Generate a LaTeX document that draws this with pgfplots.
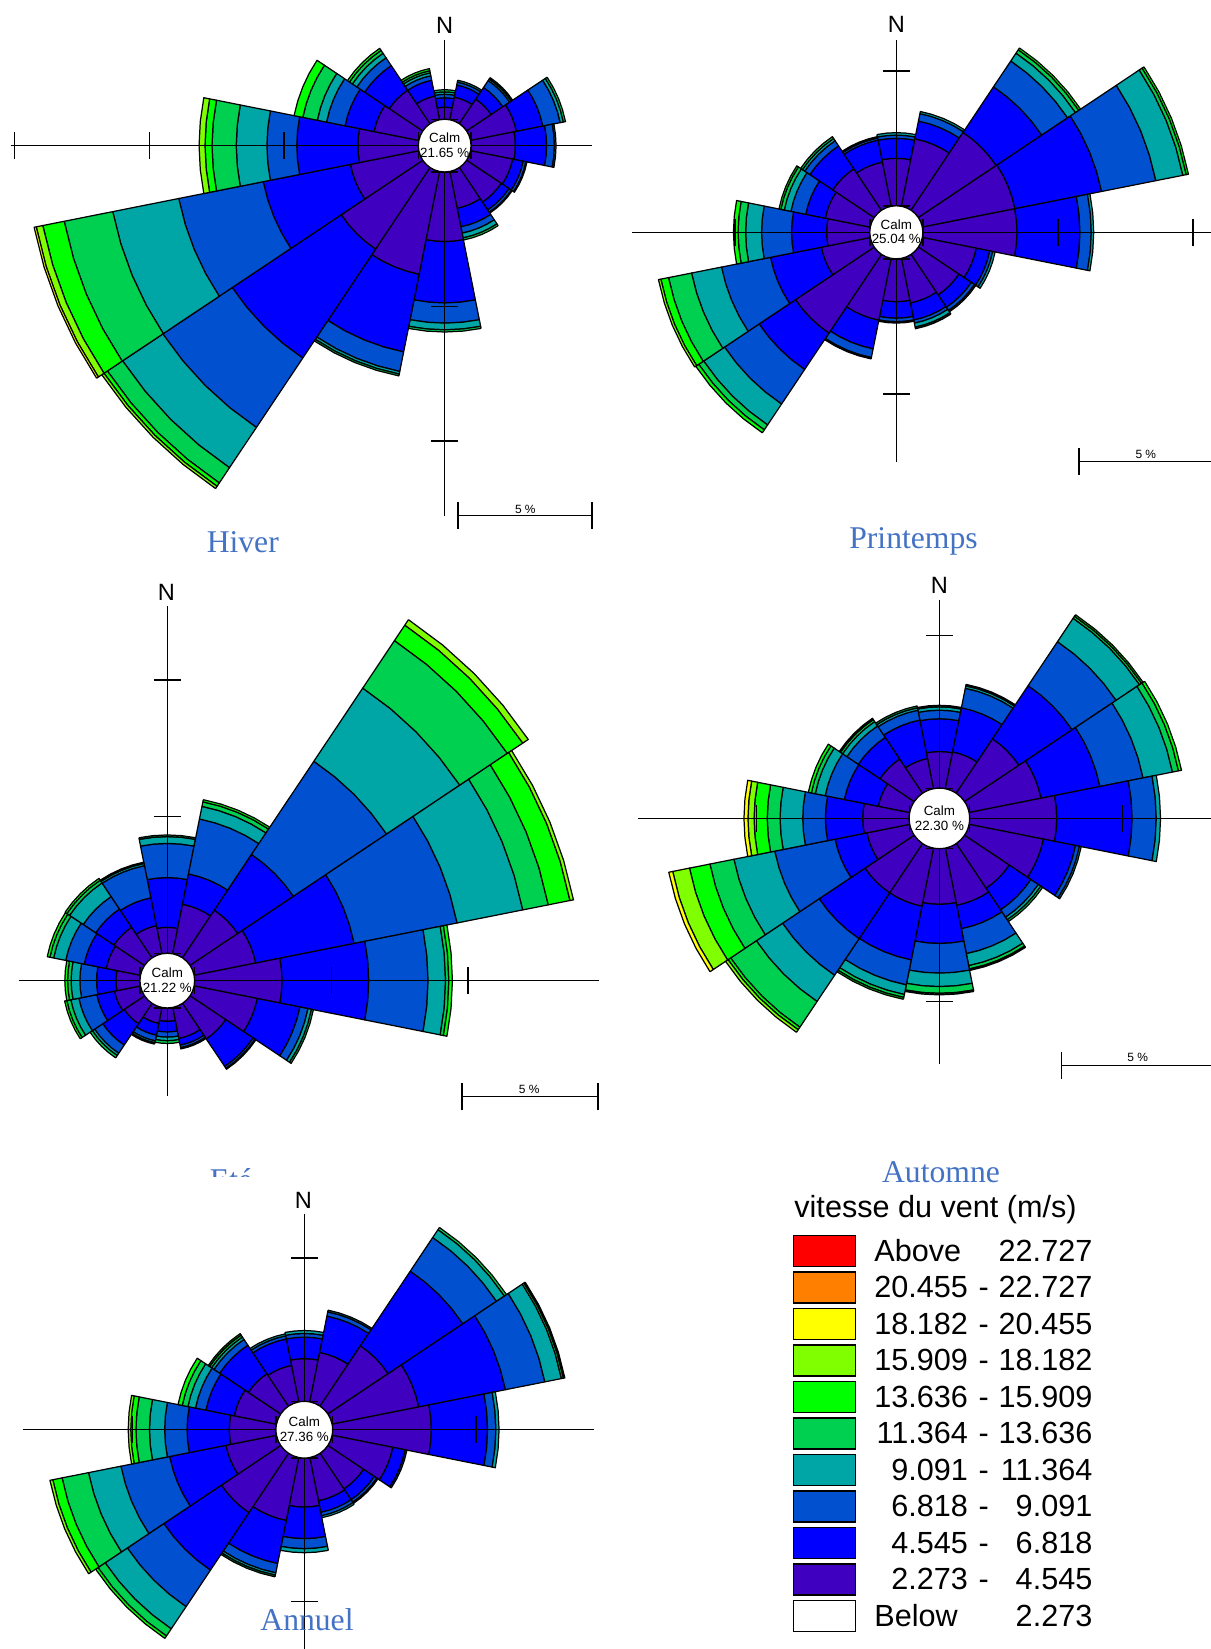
\documentclass[border=0pt]{standalone}
\usepackage{pgfplots}
\pgfplotsset{compat=1.18}
\usepackage{pgfplotstable}
\usepgfplotslibrary{polar}
\usepackage{fontspec}
\setmainfont{Liberation Sans}
\newfontfamily\serifttl{Liberation Serif}

\definecolor{cP}{HTML}{3F00C0}
\definecolor{cB}{HTML}{0000FF}
\definecolor{cM}{HTML}{0050D0}
\definecolor{cT}{HTML}{00A5A5}
\definecolor{cG}{HTML}{00D050}
\definecolor{cL}{HTML}{00FF00}
\definecolor{cY}{HTML}{80FF00}
\definecolor{cW}{HTML}{FFFF00}
\definecolor{cO}{HTML}{FF8000}
\definecolor{cR}{HTML}{FF0000}
\definecolor{ttl}{HTML}{4472C4}

% cumulative percentages (outer edge of each speed class), direction in degrees
\pgfplotstableread{
d P B M T G L Y W
0     0.45 0.80 0.93 1.02 1.10 1.10 1.10 1.10
22.5  0.86 1.32 1.43 1.50 1.50 1.50 1.50 1.50
45    1.10 1.62 1.93 2.00 2.06 2.06 2.06 2.06
67.5  1.74 2.74 3.40 3.52 3.60 3.60 3.60 3.60
90    1.65 2.81 3.10 3.16 3.16 3.16 3.16 3.16
112.5 1.60 2.00 2.10 2.14 2.14 2.14 2.14 2.14
135   1.55 1.90 2.00 2.04 2.04 2.04 2.04 2.04
157.5 1.40 2.10 2.34 2.52 2.60 2.60 2.60 2.60
180   2.59 4.87 5.62 5.87 5.95 5.95 5.95 5.95
202.5 3.90 6.84 7.58 7.68 7.75 7.75 7.75 7.75
225   3.65 8.52 11.62 13.42 14.10 14.25 14.35 14.35
247.5 2.60 5.90 9.10 11.60 13.44 14.25 14.50 14.58
270   2.25 4.52 5.63 6.77 7.67 7.93 8.15 8.15
292.5 1.70 2.80 3.50 3.85 4.40 4.73 4.73 4.73
315   1.50 2.60 2.95 3.15 3.28 3.37 3.37 3.37
337.5 0.90 1.50 1.67 1.78 1.86 1.94 1.94 1.94
}\hiverdata

\pgfplotstableread{
d P B M T G L Y W
0     1.76 2.50 2.62 2.71 2.71 2.71 2.71 2.71
22.5  2.55 3.22 3.50 3.58 3.58 3.58 3.58 3.58
45    3.47 5.50 6.65 7.00 7.15 7.23 7.23 7.23
67.5  3.50 6.77 8.82 9.84 9.97 10.05 10.05 10.05
90    3.49 5.82 6.24 6.33 6.33 6.33 6.33 6.33
112.5 2.04 2.55 2.66 2.75 2.75 2.75 2.75 2.75
135   1.81 2.36 2.50 2.56 2.56 2.56 2.56 2.56
157.5 1.69 2.33 2.45 2.60 2.66 2.66 2.66 2.66
180   1.59 2.20 2.33 2.38 2.38 2.38 2.38 2.38
202.5 2.34 3.42 3.75 3.80 3.80 3.80 3.80 3.80
225   3.51 5.13 6.67 7.60 7.82 7.95 7.95 7.95
247.5 1.85 3.77 5.62 6.75 7.62 7.91 8.00 8.00
270   1.60 2.90 4.01 4.60 4.88 5.05 5.05 5.05
292.5 1.70 2.44 3.00 3.25 3.38 3.45 3.45 3.45
315   1.85 2.87 3.10 3.20 3.28 3.28 3.28 3.28
337.5 1.67 2.50 2.58 2.63 2.63 2.63 2.63 2.63
}\printdata

\pgfplotstableread{
d P B M T G L Y W
0     0.95 2.77 4.02 4.27 4.33 4.33 4.33 4.33
22.5  1.85 2.98 5.03 5.50 5.67 5.75 5.75 5.75
45    2.10 4.55 8.65 11.87 13.96 14.64 14.88 14.88
67.5  2.30 5.97 9.81 12.26 13.21 14.02 14.15 14.15
90    3.20 6.37 8.54 9.18 9.30 9.43 9.43 9.43
112.5 2.36 3.95 4.25 4.38 4.45 4.45 4.45 4.45
135   1.57 2.78 2.86 2.90 2.90 2.90 2.90 2.90
157.5 1.16 1.41 1.50 1.55 1.55 1.55 1.55 1.55
180   0.49 0.88 1.07 1.20 1.30 1.30 1.30 1.30
202.5 0.60 1.04 1.25 1.32 1.37 1.37 1.37 1.37
225   0.90 1.84 2.20 2.30 2.40 2.40 2.40 2.40
247.5 0.97 1.63 2.30 2.60 2.75 2.83 2.83 2.83
270   0.88 1.59 2.20 2.52 2.65 2.75 2.75 2.75
292.5 1.28 2.10 2.79 3.24 3.38 3.48 3.48 3.48
315   1.35 2.15 2.70 3.30 3.42 3.50 3.50 3.50
337.5 1.05 2.09 3.29 3.37 3.42 3.42 3.42 3.42
}\etedata

\pgfplotstableread{
d P B M T G L Y W
0     1.20 2.27 2.55 2.66 2.71 2.71 2.71 2.71
22.5  1.23 2.70 3.35 3.43 3.48 3.48 3.48 3.48
45    2.14 4.23 5.96 6.88 6.96 7.02 7.02 7.02
67.5  2.40 4.36 5.80 6.78 6.98 7.08 7.08 7.08
90    2.85 5.31 6.10 6.24 6.24 6.24 6.24 6.24
112.5 2.48 3.55 3.68 3.74 3.74 3.74 3.74 3.74
135   1.76 2.61 2.90 3.00 3.07 3.07 3.07 3.07
157.5 1.91 2.69 3.52 3.92 4.03 4.08 4.08 4.08
180   1.82 3.10 4.07 4.51 4.73 4.78 4.78 4.78
202.5 1.94 3.73 4.56 4.88 4.98 5.04 5.04 5.04
225   1.94 3.74 5.18 6.21 7.22 7.32 7.42 7.42
247.5 1.43 2.49 4.50 5.86 6.66 7.34 7.90 8.03
270   1.52 2.74 3.48 4.22 4.64 5.07 5.27 5.40
292.5 1.05 2.18 2.82 3.15 3.28 3.38 3.38 3.38
315   1.35 2.20 2.65 2.82 2.90 2.95 2.95 2.95
337.5 1.01 2.29 2.62 2.70 2.76 2.76 2.76 2.76
}\automnedata

\pgfplotstableread{
d P B M T G L Y W
0     1.49 2.24 2.37 2.47 2.47 2.47 2.47 2.47
22.5  1.76 3.05 3.20 3.26 3.26 3.26 3.26 3.26
45    2.53 5.66 7.07 7.40 7.49 7.49 7.49 7.49
67.5  3.08 6.16 7.56 8.15 8.22 8.27 8.27 8.27
90    3.44 5.40 5.69 5.80 5.80 5.80 5.80 5.80
112.5 2.16 2.60 2.66 2.66 2.66 2.66 2.66 2.66
135   1.50 1.95 2.05 2.10 2.10 2.10 2.10 2.10
157.5 1.54 1.95 2.07 2.14 2.14 2.14 2.14 2.14
180   1.71 2.81 3.16 3.30 3.30 3.30 3.30 3.30
202.5 2.24 3.77 4.10 4.18 4.24 4.24 4.24 4.24
225   2.49 4.90 6.43 7.36 7.66 7.76 7.76 7.76
247.5 1.80 3.80 5.53 6.68 7.62 7.95 8.05 8.05
270   1.63 3.10 3.88 4.41 4.88 5.06 5.15 5.15
292.5 1.50 2.51 2.88 3.15 3.35 3.50 3.50 3.50
315   1.36 2.56 2.80 2.90 2.98 3.04 3.04 3.04
337.5 1.30 2.24 2.35 2.42 2.42 2.42 2.42 2.42
}\annueldata

\pgfplotsset{axl/.style={black, line width=0.4pt, mark=none}}

% point at compass angle #1 and radius #2 (px) around (\rcx,\rcy)
\newcommand\wrpt[3]{%
  \pgfmathsetmacro\wrx{\rcx+(#2)*sin(#1)}%
  \pgfmathsetmacro\wry{\rcy-(#2)*cos(#1)}%
  \edef#3{(\wrx,\wry)}}

\newcommand\wrsector[4]{%
  \pgfmathsetmacro\wrin{#2}\pgfmathsetmacro\wrout{#3}%
  \pgfmathsetmacro\wra{#1-11.25}\pgfmathsetmacro\wrb{#1-5.625}%
  \pgfmathsetmacro\wrc{#1}\pgfmathsetmacro\wrd{#1+5.625}%
  \pgfmathsetmacro\wre{#1+11.25}%
  \wrpt{\wra}{\wrout}\qA \wrpt{\wrb}{\wrout}\qB \wrpt{\wrc}{\wrout}\qC
  \wrpt{\wrd}{\wrout}\qD \wrpt{\wre}{\wrout}\qE
  \wrpt{\wre}{\wrin}\qF \wrpt{\wrd}{\wrin}\qG \wrpt{\wrc}{\wrin}\qH
  \wrpt{\wrb}{\wrin}\qI \wrpt{\wra}{\wrin}\qJ
  \edef\wrcmd{\noexpand\addplot[fill=#4,draw=black,line width=0.35pt,line join=round,mark=none] coordinates {\qA\qB\qC\qD\qE\qF\qG\qH\qI\qJ\qA};}%
  \wrcmd}

% #1 table, #2 cx, #3 cy, #4 calm radius px, #5 px per percent
\newcommand\drawrose[5]{%
  \def\rcx{#2}\def\rcy{#3}\def\rc{#4}\def\rs{#5}%
  \foreach \rowidx in {0,...,15}{%
    \pgfplotstablegetelem{\rowidx}{d}\of{#1}\let\rdir\pgfplotsretval
    \def\prev{0}%
    \pgfplotsforeachungrouped \bandname in {P,B,M,T,G,L,Y,W}{%
      \pgfplotstablegetelem{\rowidx}{\bandname}\of{#1}\let\cur\pgfplotsretval
      \pgfmathtruncatemacro\wrflag{(\cur>\prev+0.005)}%
      \ifnum\wrflag=1 \wrsector{\rdir}{\rc+\rs*\prev}{\rc+\rs*\cur}{c\bandname}\fi
      \let\prev\cur
    }%
  }%
}

% #1 cx #2 cy #3 up #4 down #5 left #6 right #7 first tick radius #8 tick step
\newcommand\roseaxes[8]{%
  \pgfmathsetmacro\raya{#2-#3}\pgfmathsetmacro\rayb{#2+#4}%
  \pgfmathsetmacro\raxa{#1-#5}\pgfmathsetmacro\raxb{#1+#6}%
  \edef\wrcmd{\noexpand\addplot[axl] coordinates {(#1,\raya) (#1,\rayb)};}\wrcmd
  \edef\wrcmd{\noexpand\addplot[axl] coordinates {(\raxa,#2) (\raxb,#2)};}\wrcmd
  \pgfmathsetmacro\raA{#1-13.5}\pgfmathsetmacro\raB{#1+13.5}%
  \pgfmathsetmacro\raC{#2-13.5}\pgfmathsetmacro\raD{#2+13.5}%
  \foreach \rak in {0,1,2,3}{%
    \pgfmathsetmacro\rarr{#7+\rak*#8}%
    \pgfmathtruncatemacro\raok{(\rarr<#3+0.5)}%
    \ifnum\raok=1 \pgfmathsetmacro\rayy{#2-\rarr}\edef\wrcmd{\noexpand\addplot[axl] coordinates {(\raA,\rayy) (\raB,\rayy)};}\wrcmd\fi
    \pgfmathtruncatemacro\raok{(\rarr<#4+0.5)}%
    \ifnum\raok=1 \pgfmathsetmacro\rayy{#2+\rarr}\edef\wrcmd{\noexpand\addplot[axl] coordinates {(\raA,\rayy) (\raB,\rayy)};}\wrcmd\fi
    \pgfmathtruncatemacro\raok{(\rarr<#5+0.5)}%
    \ifnum\raok=1 \pgfmathsetmacro\raxx{#1-\rarr}\edef\wrcmd{\noexpand\addplot[axl] coordinates {(\raxx,\raC) (\raxx,\raD)};}\wrcmd\fi
    \pgfmathtruncatemacro\raok{(\rarr<#6+0.5)}%
    \ifnum\raok=1 \pgfmathsetmacro\raxx{#1+\rarr}\edef\wrcmd{\noexpand\addplot[axl] coordinates {(\raxx,\raC) (\raxx,\raD)};}\wrcmd\fi
  }}

\newcommand\calmfont{\fontsize{3.8}{4}\selectfont}
\newcommand\nfont{\fontsize{6.7}{7}\selectfont}
\newcommand\sfont{\fontsize{3.4}{4}\selectfont}
\newcommand\tfont{\serifttl\fontsize{9}{10}\selectfont\color{ttl}}
\newcommand\lfont{\fontsize{8.7}{10}\selectfont}

\begin{document}
\begin{tikzpicture}
\begin{axis}[
  x=0.01cm, y=0.01cm, y dir=reverse,
  xmin=0, xmax=1211, ymin=0, ymax=1649,
  hide axis, enlargelimits=false, clip=true,
]
% ---------- roses ----------
\drawrose{\hiverdata}{444.7}{145.6}{26.3}{26.91}
\drawrose{\printdata}{896.3}{232.3}{26.5}{27.0}
\drawrose{\etedata}{167.3}{980.6}{27.3}{27.34}
\drawrose{\automnedata}{939.4}{818.4}{30.2}{30.6}
\drawrose{\annueldata}{304.3}{1429.7}{28.3}{28.7}

% ---------- axes with ticks ----------
\roseaxes{444.7}{145.6}{106.1}{370}{433.8}{147.1}{26.3}{134.55}
\roseaxes{896.3}{232.3}{192.3}{229.4}{263.9}{400}{26.5}{135}
\roseaxes{167.3}{980.6}{374.2}{115.8}{148.6}{431.9}{27.3}{136.7}
\roseaxes{939.4}{818.4}{218.6}{245.1}{301.2}{400}{30.2}{153}
\roseaxes{304.3}{1429.7}{216}{260}{281.8}{289.7}{28.3}{143.5}

% ---------- calm circles with their labels ----------
\filldraw[fill=white, draw=black, line width=0.35pt] (axis cs:444.7,145.6) circle[radius=0.263cm];
\node[font=\calmfont, anchor=base, inner sep=0] at (axis cs:444.7,142.6) {Calm};
\node[font=\calmfont, anchor=base, inner sep=0] at (axis cs:444.7,157.0) {21.65 \%};
\filldraw[fill=white, draw=black, line width=0.35pt] (axis cs:896.3,232.3) circle[radius=0.265cm];
\node[font=\calmfont, anchor=base, inner sep=0] at (axis cs:896.3,229.3) {Calm};
\node[font=\calmfont, anchor=base, inner sep=0] at (axis cs:896.3,243.7) {25.04 \%};
\filldraw[fill=white, draw=black, line width=0.35pt] (axis cs:167.3,980.6) circle[radius=0.273cm];
\node[font=\calmfont, anchor=base, inner sep=0] at (axis cs:167.3,977.6) {Calm};
\node[font=\calmfont, anchor=base, inner sep=0] at (axis cs:167.3,992.0) {21.22 \%};
\filldraw[fill=white, draw=black, line width=0.35pt] (axis cs:939.4,818.4) circle[radius=0.302cm];
\node[font=\calmfont, anchor=base, inner sep=0] at (axis cs:939.4,815.2) {Calm};
\node[font=\calmfont, anchor=base, inner sep=0] at (axis cs:939.4,830.0) {22.30 \%};
\filldraw[fill=white, draw=black, line width=0.35pt] (axis cs:304.3,1429.7) circle[radius=0.283cm];
\node[font=\calmfont, anchor=base, inner sep=0] at (axis cs:304.3,1426.7) {Calm};
\node[font=\calmfont, anchor=base, inner sep=0] at (axis cs:304.3,1441.7) {27.36 \%};

% ---------- N labels ----------
\node[font=\nfont, inner sep=0] at (axis cs:444.7,25.5) {N};
\node[font=\nfont, inner sep=0] at (axis cs:896.3,24.2) {N};
\node[font=\nfont, inner sep=0] at (axis cs:166.5,592.4) {N};
\node[font=\nfont, inner sep=0] at (axis cs:939.4,585.6) {N};
\node[font=\nfont, inner sep=0] at (axis cs:303.5,1200) {N};

% ---------- scale bars ----------
\addplot[axl] coordinates {(458,515.6) (591.8,515.6)};
\addplot[axl] coordinates {(458,502.1) (458,529.1)};
\addplot[axl] coordinates {(591.8,502.1) (591.8,529.1)};
\node[font=\sfont, anchor=base, inner sep=0] at (axis cs:525.3,513.5) {5 \%};

\addplot[axl] coordinates {(1079.1,461.7) (1214.1,461.7)};
\addplot[axl] coordinates {(1079.1,448.2) (1079.1,475.2)};
\node[font=\sfont, anchor=base, inner sep=0] at (axis cs:1145.8,458.3) {5 \%};

\addplot[axl] coordinates {(461.9,1096.4) (598.1,1096.4)};
\addplot[axl] coordinates {(461.9,1082.9) (461.9,1109.9)};
\addplot[axl] coordinates {(598.1,1082.9) (598.1,1109.9)};
\node[font=\sfont, anchor=base, inner sep=0] at (axis cs:529.2,1093) {5 \%};

\addplot[axl] coordinates {(1061.6,1065.2) (1214.6,1065.2)};
\addplot[axl] coordinates {(1061.6,1051.7) (1061.6,1078.7)};
\node[font=\sfont, anchor=base, inner sep=0] at (axis cs:1137.6,1061.8) {5 \%};

% ---------- titles ----------
\node[font=\tfont, anchor=base, inner sep=0] at (axis cs:242.8,552) {Hiver};
\node[font=\tfont, anchor=base, inner sep=0] at (axis cs:913.5,548.5) {Printemps};
\node[font=\tfont, anchor=base, inner sep=0] at (axis cs:231,1190) {Eté};
\fill[white] (axis cs:195,1177) rectangle (axis cs:272,1198);
\node[font=\tfont, anchor=base, inner sep=0] at (axis cs:941,1182) {Automne};
\node[font=\tfont, anchor=base, inner sep=0] at (axis cs:307,1630) {Annuel};

% ---------- legend ----------
\node[font=\lfont, anchor=base west, inner sep=0] at (axis cs:793.7,1217.7) {vitesse du vent (m/s)};
\filldraw[fill=cR, draw=black, line width=0.45pt] (axis cs:793.7,1235.5) rectangle (axis cs:855.7,1266.5);
\filldraw[fill=cO, draw=black, line width=0.45pt] (axis cs:793.7,1272.0) rectangle (axis cs:855.7,1303.0);
\filldraw[fill=cW, draw=black, line width=0.45pt] (axis cs:793.7,1308.5) rectangle (axis cs:855.7,1339.5);
\filldraw[fill=cY, draw=black, line width=0.45pt] (axis cs:793.7,1345.0) rectangle (axis cs:855.7,1376.0);
\filldraw[fill=cL, draw=black, line width=0.45pt] (axis cs:793.7,1381.5) rectangle (axis cs:855.7,1412.5);
\filldraw[fill=cG, draw=black, line width=0.45pt] (axis cs:793.7,1418.0) rectangle (axis cs:855.7,1449.0);
\filldraw[fill=cT, draw=black, line width=0.45pt] (axis cs:793.7,1454.5) rectangle (axis cs:855.7,1485.5);
\filldraw[fill=cM, draw=black, line width=0.45pt] (axis cs:793.7,1491.0) rectangle (axis cs:855.7,1522.0);
\filldraw[fill=cB, draw=black, line width=0.45pt] (axis cs:793.7,1527.5) rectangle (axis cs:855.7,1558.5);
\filldraw[fill=cP, draw=black, line width=0.45pt] (axis cs:793.7,1564.0) rectangle (axis cs:855.7,1595.0);
\filldraw[fill=white, draw=black, line width=0.45pt] (axis cs:793.7,1600.5) rectangle (axis cs:855.7,1631.5);

\node[font=\lfont, anchor=base west, inner sep=0] at (axis cs:873.7,1261.3) {Above};
\node[font=\lfont, anchor=base east, inner sep=0] at (axis cs:1093,1261.3) {22.727};
\node[font=\lfont, anchor=base east, inner sep=0] at (axis cs:968.7,1297.8) {20.455};
\node[font=\lfont, anchor=base, inner sep=0] at (axis cs:983.8,1297.8) {-};
\node[font=\lfont, anchor=base east, inner sep=0] at (axis cs:1093,1297.8) {22.727};
\node[font=\lfont, anchor=base east, inner sep=0] at (axis cs:968.7,1334.3) {18.182};
\node[font=\lfont, anchor=base, inner sep=0] at (axis cs:983.8,1334.3) {-};
\node[font=\lfont, anchor=base east, inner sep=0] at (axis cs:1093,1334.3) {20.455};
\node[font=\lfont, anchor=base east, inner sep=0] at (axis cs:968.7,1370.8) {15.909};
\node[font=\lfont, anchor=base, inner sep=0] at (axis cs:983.8,1370.8) {-};
\node[font=\lfont, anchor=base east, inner sep=0] at (axis cs:1093,1370.8) {18.182};
\node[font=\lfont, anchor=base east, inner sep=0] at (axis cs:968.7,1407.3) {13.636};
\node[font=\lfont, anchor=base, inner sep=0] at (axis cs:983.8,1407.3) {-};
\node[font=\lfont, anchor=base east, inner sep=0] at (axis cs:1093,1407.3) {15.909};
\node[font=\lfont, anchor=base east, inner sep=0] at (axis cs:968.7,1443.8) {11.364};
\node[font=\lfont, anchor=base, inner sep=0] at (axis cs:983.8,1443.8) {-};
\node[font=\lfont, anchor=base east, inner sep=0] at (axis cs:1093,1443.8) {13.636};
\node[font=\lfont, anchor=base east, inner sep=0] at (axis cs:968.7,1480.3) {9.091};
\node[font=\lfont, anchor=base, inner sep=0] at (axis cs:983.8,1480.3) {-};
\node[font=\lfont, anchor=base east, inner sep=0] at (axis cs:1093,1480.3) {11.364};
\node[font=\lfont, anchor=base east, inner sep=0] at (axis cs:968.7,1516.8) {6.818};
\node[font=\lfont, anchor=base, inner sep=0] at (axis cs:983.8,1516.8) {-};
\node[font=\lfont, anchor=base east, inner sep=0] at (axis cs:1093,1516.8) {9.091};
\node[font=\lfont, anchor=base east, inner sep=0] at (axis cs:968.7,1553.3) {4.545};
\node[font=\lfont, anchor=base, inner sep=0] at (axis cs:983.8,1553.3) {-};
\node[font=\lfont, anchor=base east, inner sep=0] at (axis cs:1093,1553.3) {6.818};
\node[font=\lfont, anchor=base east, inner sep=0] at (axis cs:968.7,1589.8) {2.273};
\node[font=\lfont, anchor=base, inner sep=0] at (axis cs:983.8,1589.8) {-};
\node[font=\lfont, anchor=base east, inner sep=0] at (axis cs:1093,1589.8) {4.545};
\node[font=\lfont, anchor=base west, inner sep=0] at (axis cs:873.7,1626.3) {Below};
\node[font=\lfont, anchor=base east, inner sep=0] at (axis cs:1093,1626.3) {2.273};
\end{axis}
\pgfresetboundingbox
\path[use as bounding box] (current axis.south west) rectangle (current axis.north east);
\end{tikzpicture}
\end{document}
